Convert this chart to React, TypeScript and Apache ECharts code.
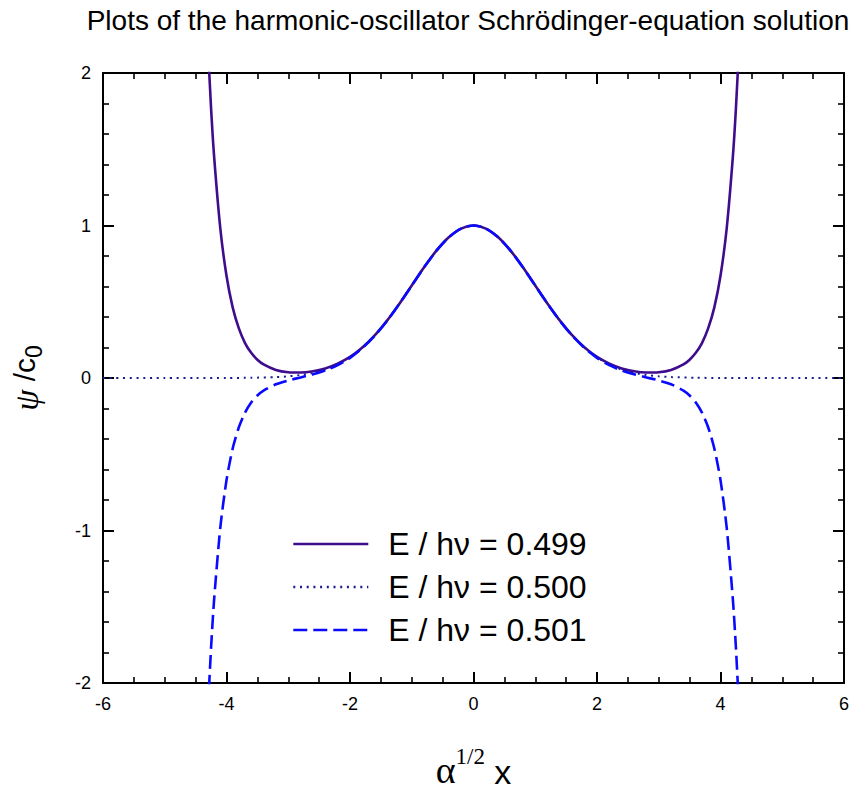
import React, { useEffect, useRef } from 'react';
import * as echarts from 'echarts';

const TITLE = 'Plots of the harmonic-oscillator Schrödinger-equation solution';
const SERIES_NAMES = ['E / hν = 0.499', 'E / hν = 0.500', 'E / hν = 0.501'];
const SERIES_COLORS = ['#3f0c8e', '#1c1c8f', '#0a0aff'];

// x positions shared by the E = 0.499 and E = 0.501 curves
const xOff = [-4.3, -4.25, -4.2, -4.1, -4.0, -3.9, -3.8, -3.7, -3.6, -3.5, -3.4, -3.2, -3.0, -2.8, -2.6, -2.4, -2.2, -2.0, -1.8, -1.6, -1.4, -1.2, -1.0, -0.8, -0.6, -0.4, -0.2, 0, 0.2, 0.4, 0.6, 0.8, 1.0, 1.2, 1.4, 1.6, 1.8, 2.0, 2.2, 2.4, 2.6, 2.8, 3.0, 3.2, 3.4, 3.5, 3.6, 3.7, 3.8, 3.9, 4.0, 4.1, 4.2, 4.25, 4.3];

// E / hν = 0.499 (solid, diverges upwards)
const y499 = [2.17, 1.77, 1.45, 0.98, 0.67, 0.463, 0.325, 0.229, 0.165, 0.12, 0.089, 0.053, 0.038, 0.036, 0.044, 0.063, 0.094, 0.138, 0.2, 0.279, 0.376, 0.487, 0.607, 0.726, 0.835, 0.923, 0.98, 1.0, 0.98, 0.923, 0.835, 0.726, 0.607, 0.487, 0.376, 0.279, 0.2, 0.138, 0.094, 0.063, 0.044, 0.036, 0.038, 0.053, 0.089, 0.12, 0.165, 0.229, 0.325, 0.463, 0.67, 0.98, 1.45, 1.77, 2.17];

// E / hν = 0.501 (dashed, diverges downwards)
const y501 = [-2.17, -1.77, -1.45, -0.98, -0.67, -0.462, -0.323, -0.227, -0.161, -0.115, -0.083, -0.041, -0.016, 0.004, 0.024, 0.049, 0.084, 0.132, 0.196, 0.277, 0.375, 0.487, 0.606, 0.726, 0.835, 0.923, 0.98, 1.0, 0.98, 0.923, 0.835, 0.726, 0.606, 0.487, 0.375, 0.277, 0.196, 0.132, 0.084, 0.049, 0.024, 0.004, -0.016, -0.041, -0.083, -0.115, -0.161, -0.227, -0.323, -0.462, -0.67, -0.98, -1.45, -1.77, -2.17];

// E / hν = 0.500 (dotted, the bounded solution)
const xExact = [-6, -5, -4.5, -4.0, -3.6, -3.2, -3.0, -2.8, -2.6, -2.4, -2.2, -2.0, -1.8, -1.6, -1.4, -1.2, -1.0, -0.8, -0.6, -0.4, -0.2, 0, 0.2, 0.4, 0.6, 0.8, 1.0, 1.2, 1.4, 1.6, 1.8, 2.0, 2.2, 2.4, 2.6, 2.8, 3.0, 3.2, 3.6, 4.0, 4.5, 5, 6];
const y500 = [0, 0, 0, 0.0003, 0.0015, 0.006, 0.011, 0.02, 0.034, 0.056, 0.089, 0.135, 0.198, 0.278, 0.375, 0.487, 0.607, 0.726, 0.835, 0.923, 0.98, 1.0, 0.98, 0.923, 0.835, 0.726, 0.607, 0.487, 0.375, 0.278, 0.198, 0.135, 0.089, 0.056, 0.034, 0.02, 0.011, 0.006, 0.0015, 0.0003, 0, 0, 0];

const X_MIN = -6;
const X_MAX = 6;
const X_STEP = 2;
const Y_MIN = -2;
const Y_MAX = 2;
const Y_STEP = 1;

const pairs = (xs: number[], ys: number[]) => xs.map((x, i) => [x, ys[i]]);

const FONT = 'Liberation Sans';

function buildOption() {
  const axisLine = { show: true, onZero: false, lineStyle: { color: '#000', width: 2 } };
  const axisTick = { show: true, inside: true, length: 11, lineStyle: { color: '#000', width: 2 } };
  const minorTickBase = { show: true, length: 6, lineStyle: { color: '#000', width: 1.6 } };
  const xBase = {
    type: 'value',
    min: X_MIN,
    max: X_MAX,
    interval: X_STEP,
    axisLine,
    axisTick,
    minorTick: { ...minorTickBase, splitNumber: 4 },
    splitLine: { show: false },
    minorSplitLine: { show: false },
  };
  const yBase = {
    type: 'value',
    min: Y_MIN,
    max: Y_MAX,
    interval: Y_STEP,
    axisLine,
    axisTick,
    minorTick: { ...minorTickBase, splitNumber: 5 },
    splitLine: { show: false },
    minorSplitLine: { show: false },
  };
  const labelStyle = { show: true, fontSize: 18, fontFamily: FONT, color: '#000', margin: 12 };
  const lineSeries = (i: number, data: number[][], type: any, width: number) => ({
    name: SERIES_NAMES[i],
    type: 'line',
    xAxisIndex: 0,
    yAxisIndex: 0,
    data,
    symbol: 'none',
    smooth: 0.25,
    color: SERIES_COLORS[i],
    lineStyle: { color: SERIES_COLORS[i], width, type },
    clip: true,
    silent: true,
    z: 2 + i,
  });

  return {
    animation: false,
    backgroundColor: '#fff',
    title: {
      text: TITLE,
      left: 468,
      top: 6,
      textAlign: 'center',
      padding: 0,
      textStyle: { fontSize: 28, fontWeight: 'normal', fontFamily: FONT, color: '#000' },
    },
    grid: { left: 103, top: 73, width: 741, height: 610, containLabel: false },
    legend: {
      orient: 'vertical',
      left: 292,
      top: 528,
      padding: 0,
      itemWidth: 75,
      itemHeight: 14,
      itemGap: 11,
      selectedMode: false,
      data: SERIES_NAMES,
      itemStyle: { color: 'rgba(0,0,0,0)', borderColor: 'rgba(0,0,0,0)', borderWidth: 0, opacity: 0 },
      lineStyle: { width: 2.6 },
      textStyle: { fontSize: 32, fontFamily: FONT, color: '#000', lineHeight: 32, padding: [0, 0, 0, 15] },
    },
    xAxis: [
      {
        ...xBase,
        position: 'bottom',
        axisLabel: labelStyle,
        name: '{a|α}{s|1/2}{b| x}',
        nameLocation: 'middle',
        nameGap: 62,
        nameTextStyle: {
          rich: {
            a: { fontFamily: 'Liberation Serif', fontSize: 38, color: '#000', verticalAlign: 'bottom', lineHeight: 44 },
            s: { fontFamily: 'Liberation Serif', fontSize: 23, color: '#000', verticalAlign: 'top', lineHeight: 23 },
            b: { fontFamily: FONT, fontSize: 34, color: '#000', verticalAlign: 'bottom', lineHeight: 44 },
          },
        },
      },
      { ...xBase, position: 'top', axisLabel: { show: false } },
    ],
    yAxis: [
      {
        ...yBase,
        position: 'left',
        axisLabel: labelStyle,
        name: '{p|ψ}{c| /c}{s|0}',
        nameLocation: 'middle',
        nameGap: 58,
        nameTextStyle: {
          rich: {
            p: { fontFamily: 'Liberation Serif', fontStyle: 'italic', fontSize: 34, color: '#000', verticalAlign: 'top', lineHeight: 36 },
            c: { fontFamily: FONT, fontSize: 30, color: '#000', verticalAlign: 'top', lineHeight: 36 },
            s: { fontFamily: FONT, fontSize: 23, color: '#000', verticalAlign: 'bottom', lineHeight: 22 },
          },
        },
      },
      { ...yBase, position: 'right', axisLabel: { show: false } },
    ],
    series: [
      lineSeries(0, pairs(xOff, y499), 'solid', 2.6),
      lineSeries(1, pairs(xExact, y500), [2, 4.7], 2),
      lineSeries(2, pairs(xOff, y501), [14, 6], 2.6),
    ],
  };
}

export default function App() {
  const ref = useRef<HTMLDivElement>(null);
  useEffect(() => {
    document.body.style.margin = '0';
    if (!ref.current) return;
    const chart = echarts.init(ref.current, null, { renderer: 'svg' });
    chart.setOption(buildOption() as any);
    return () => chart.dispose();
  }, []);
  return <div ref={ref} style={{ width: 853, height: 794 }} />;
}
